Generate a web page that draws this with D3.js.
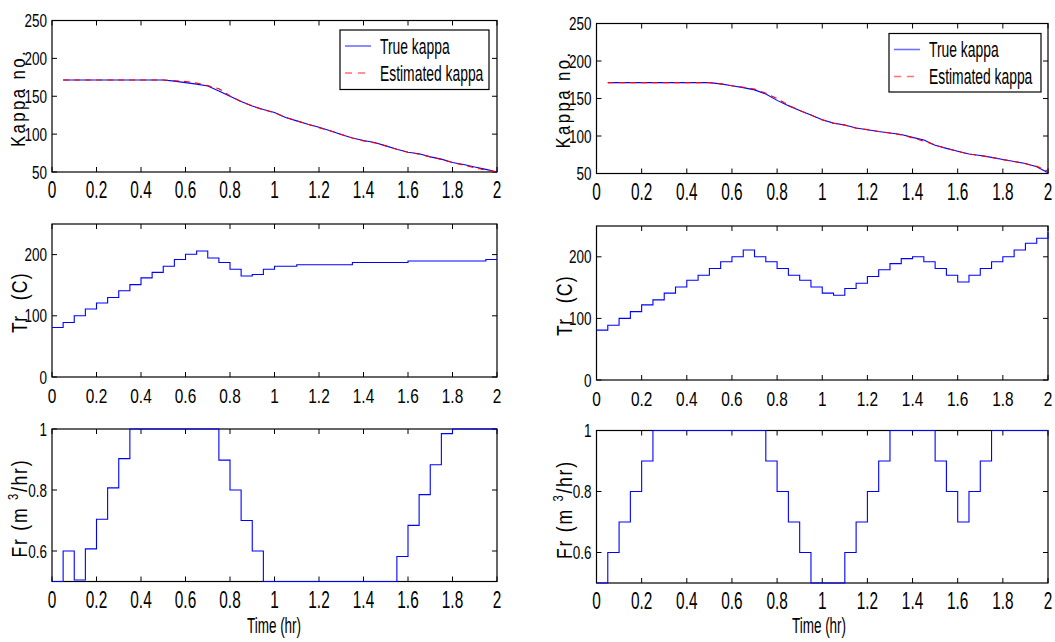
<!DOCTYPE html>
<html>
<head>
<meta charset="utf-8">
<script src="https://cdn.jsdelivr.net/npm/d3@7"></script>
<style>
  html, body { margin: 0; padding: 0; background: #fff; }
  svg { display: block; }
  text { font-family: "Liberation Sans", Arial, sans-serif; fill: #000; }
</style>
</head>
<body>
<svg id="chart" width="1055" height="642"></svg>
<script>
// Sampling instants (hr) of the controller: one value per 0.05 hr interval
const stepTimes = [0, 0.05, 0.1, 0.15, 0.2, 0.25, 0.3, 0.35, 0.4, 0.45, 0.5,
  0.55, 0.6, 0.65, 0.7, 0.75, 0.8, 0.85, 0.9, 0.95, 1.0,
  1.05, 1.1, 1.15, 1.2, 1.25, 1.3, 1.35, 1.4, 1.45, 1.5,
  1.55, 1.6, 1.65, 1.7, 1.75, 1.8, 1.85, 1.9, 1.95, 2.0];
const kappaTimes = stepTimes.slice(1);

// Case 1 (left column)
const kappaTrue1 = [171.5, 171.5, 171.5, 171.5, 171.5, 171.5, 171.5, 171.5, 171.5, 171.5,
  170, 168, 166, 163.5, 157, 150, 143, 137, 132.5, 128.5,
  122, 117.5, 113, 109, 104.5, 99.5, 95, 91.5, 89, 84.5,
  80, 76, 74, 70, 67, 62.5, 60, 56.5, 53.5, 50];
const kappaEst1 = [171.5, 171.5, 171.5, 171.5, 171.5, 171.5, 171.5, 171.5, 171.5, 171.5,
  170.5, 169.5, 167.5, 164, 160, 150.5, 143, 137, 132, 128.5,
  122, 117.5, 113, 108.5, 104.5, 99.5, 95, 91, 88.5, 84.5,
  80, 76, 73.5, 70, 66.5, 62.5, 59, 55.5, 52.5, 50];
const tr1 = [81, 89, 100, 111, 121, 130, 141, 151, 162, 171,
  181, 192, 200.5, 206, 194.5, 187, 176, 165, 167.5, 176,
  181, 181, 183.5, 183.5, 183.5, 183.5, 183.5, 187, 187, 187,
  187, 187, 189.5, 189.5, 189.5, 189.5, 189.5, 189.5, 189.5, 192, 192];
const fr1 = [0.5, 0.6, 0.505, 0.607, 0.704, 0.807, 0.903, 1, 1, 1,
  1, 1, 1, 1, 1, 0.898, 0.8, 0.7, 0.6, 0.5,
  0.5, 0.5, 0.5, 0.5, 0.5, 0.5, 0.5, 0.5, 0.5, 0.5,
  0.5, 0.582, 0.684, 0.785, 0.883, 0.985, 1, 1, 1, 1, 1];

// Case 2 (right column)
const kappaTrue2 = [171.2, 171.2, 171.2, 171.2, 171.2, 171.2, 171.2, 171.2, 171.2, 171.2,
  169.5, 167, 164.5, 161.5, 156, 147.5, 140.5, 134, 128, 121.7,
  117.2, 114.6, 110.6, 108.4, 106, 104, 102, 98.2, 94.7, 87.6,
  83.5, 79.6, 76, 74, 71.5, 68.6, 66, 63.3, 59, 51];
const kappaEst2 = [171.2, 171.2, 171.2, 171.2, 171.2, 171.2, 171.2, 171.2, 171.2, 171.2,
  169.5, 167, 165, 162.5, 157, 150, 141, 134, 128, 121.5,
  117, 114.5, 110.5, 108.5, 106, 104, 101.5, 97.5, 93, 88,
  83.5, 79.5, 76, 74, 71.5, 68.5, 66, 63, 59.5, 53];
const tr2 = [81, 89, 100, 111, 122, 130, 141, 151, 162, 170,
  181, 192, 200, 211, 200, 192, 181, 170, 162, 151,
  141, 137.5, 148.5, 157, 168, 179, 189, 197, 200, 192,
  181, 170, 159, 170, 181, 192, 200, 211, 222, 230, 240];
const fr2 = [0.5, 0.6, 0.7, 0.8, 0.9, 1, 1, 1, 1, 1,
  1, 1, 1, 1, 1, 0.9, 0.8, 0.7, 0.6, 0.5,
  0.5, 0.5, 0.6, 0.7, 0.8, 0.9, 1, 1, 1, 1,
  0.9, 0.8, 0.7, 0.8, 0.9, 1, 1, 1, 1, 1, 1];

// Axis ticks
const timeTicks = [0, 0.2, 0.4, 0.6, 0.8, 1, 1.2, 1.4, 1.6, 1.8, 2];
const kappaTicks = [50, 100, 150, 200, 250];
const trTicks = [0, 100, 200];
const frTicks = [0.6, 0.8, 1];
const legendLabels = ["True kappa", "Estimated kappa"];

const BLUE = "#0000ff", RED = "#ff0000";
const SX = 0.77;   // horizontal condensing of the narrow plot font
const svg = d3.select("#chart");

// Panel frames (pixel boxes) for the two columns and three rows
const cols = [
  { x0: 52, x1: 497, rows: [[20.5, 172], [224, 377], [429, 581.5]], legend: [340, 30, 489, 89.5], xlabel: 274 },
  { x0: 596.5, x1: 1048, rows: [[23.5, 173.5], [226, 380], [430.5, 583]], legend: [889, 33.5, 1041, 92], xlabel: 819 }
];

const cases = [
  { kTrue: kappaTrue1, kEst: kappaEst1, tr: tr1, fr: fr1 },
  { kTrue: kappaTrue2, kEst: kappaEst2, tr: tr2, fr: fr2 }
];

// Vertical stretch of the time tick labels per row
const rowLabelStretch = [1.15, 1.0, 1.2];

function fmt(v) { return String(+v.toFixed(2)); }

// Text placed at (x, y), optionally rotated, condensed horizontally by sx and stretched by sy
function label(parent, x, y, str, opts) {
  const o = Object.assign({ size: 17, anchor: "start", sx: SX, sy: 1, rot: 0, spacing: 0 }, opts);
  const t = parent.append("text")
    .attr("transform", `translate(${x},${y}) rotate(${o.rot}) scale(${o.sx},${o.sy})`)
    .attr("text-anchor", o.anchor)
    .attr("font-size", o.size);
  if (o.spacing) t.attr("letter-spacing", o.spacing);
  if (str !== null) t.text(str);
  return t;
}

function drawPanel(col, row, yDomain, yTicks) {
  const [y0, y1] = col.rows[row];
  const x = d3.scaleLinear().domain([0, 2]).range([col.x0, col.x1]);
  const y = d3.scaleLinear().domain(yDomain).range([y1, y0]);
  const g = svg.append("g");

  g.append("rect").attr("x", col.x0).attr("y", y0)
    .attr("width", col.x1 - col.x0).attr("height", y1 - y0)
    .attr("fill", "none").attr("stroke", "#000").attr("stroke-width", 1.2);

  const tl = 5;
  // ticks on all four sides, pointing inward
  timeTicks.forEach(t => {
    const px = x(t);
    g.append("line").attr("x1", px).attr("x2", px).attr("y1", y1).attr("y2", y1 - tl).attr("stroke", "#000");
    g.append("line").attr("x1", px).attr("x2", px).attr("y1", y0).attr("y2", y0 + tl).attr("stroke", "#000");
    label(g, px, y1 + 26, fmt(t), { size: 20, anchor: "middle", sy: rowLabelStretch[row] });
  });
  yTicks.forEach(v => {
    const py = y(v);
    g.append("line").attr("x1", col.x0).attr("x2", col.x0 + tl).attr("y1", py).attr("y2", py).attr("stroke", "#000");
    g.append("line").attr("x1", col.x1).attr("x2", col.x1 - tl).attr("y1", py).attr("y2", py).attr("stroke", "#000");
    label(g, col.x0 - 5, py + 6.5, fmt(v), { size: 17.5, anchor: "end" });
  });
  return { x, y, g };
}

cols.forEach((col, ci) => {
  const c = cases[ci];

  // Kappa number
  const p1 = drawPanel(col, 0, [50, 250], kappaTicks);
  const kLine = d3.line().x(d => p1.x(d[0])).y(d => p1.y(d[1]));
  p1.g.append("path").datum(d3.zip(kappaTimes, c.kTrue)).attr("d", kLine)
    .attr("fill", "none").attr("stroke", BLUE).attr("stroke-width", 1.1);
  p1.g.append("path").datum(d3.zip(kappaTimes, c.kEst)).attr("d", kLine)
    .attr("fill", "none").attr("stroke", RED).attr("stroke-width", 1.1).attr("stroke-dasharray", "6,5");

  // legend
  const [lx0, ly0, lx1, ly1] = col.legend;
  p1.g.append("rect").attr("x", lx0).attr("y", ly0).attr("width", lx1 - lx0).attr("height", ly1 - ly0)
    .attr("fill", "#fff").attr("stroke", "#000").attr("stroke-width", 1.2);
  legendLabels.forEach((lab, i) => {
    const ly = ly0 + 16 + i * 27;
    p1.g.append("line").attr("x1", lx0 + 5).attr("x2", lx0 + 31).attr("y1", ly).attr("y2", ly)
      .attr("stroke", i === 0 ? "#6f6fff" : "#ff7070").attr("stroke-width", 1.6)
      .attr("stroke-dasharray", i === 0 ? null : "7,6");
    label(p1.g, lx0 + 40, ly + 7.5, lab, { size: 18.5, sx: 0.75, sy: 1.15 });
  });

  label(svg, col.x0 - 27, col.rows[0][1] - 25, "Kappa no.", { size: 21, rot: -90, sx: 0.8, spacing: 3 });

  // Reactor temperature
  const p2 = drawPanel(col, 1, [0, 250], trTicks);
  const trLine = d3.line().curve(d3.curveStepAfter).x(d => p2.x(d[0])).y(d => p2.y(d[1]));
  p2.g.append("path").datum(d3.zip(stepTimes, c.tr)).attr("d", trLine)
    .attr("fill", "none").attr("stroke", BLUE).attr("stroke-width", 1.1);
  const tl = label(svg, col.x0 - 25, col.rows[1][1] - 44, null, { size: 22, rot: -90, sx: 0.8, spacing: 1.5 });
  tl.append("tspan").text("Tr");
  tl.append("tspan").attr("dx", 18).text("(C)");

  // Feed rate
  const p3 = drawPanel(col, 2, [0.5, 1], frTicks);
  const frLine = d3.line().curve(d3.curveStepAfter).x(d => p3.x(d[0])).y(d => p3.y(d[1]));
  p3.g.append("path").datum(d3.zip(stepTimes, c.fr)).attr("d", frLine)
    .attr("fill", "none").attr("stroke", BLUE).attr("stroke-width", 1.1);
  const fl = label(svg, col.x0 - 25, col.rows[2][1] - 24, null, { size: 22, rot: -90, sx: 0.8, spacing: 2.2 });
  fl.append("tspan").text("Fr  (m ");
  fl.append("tspan").attr("font-size", 14).attr("dy", -9).text("3");
  fl.append("tspan").attr("dy", 9).text("/hr)");

  label(svg, col.xlabel, 633, "Time  (hr)", { size: 18, anchor: "middle", sx: 0.75, sy: 1.2 });
});
</script>
</body>
</html>
